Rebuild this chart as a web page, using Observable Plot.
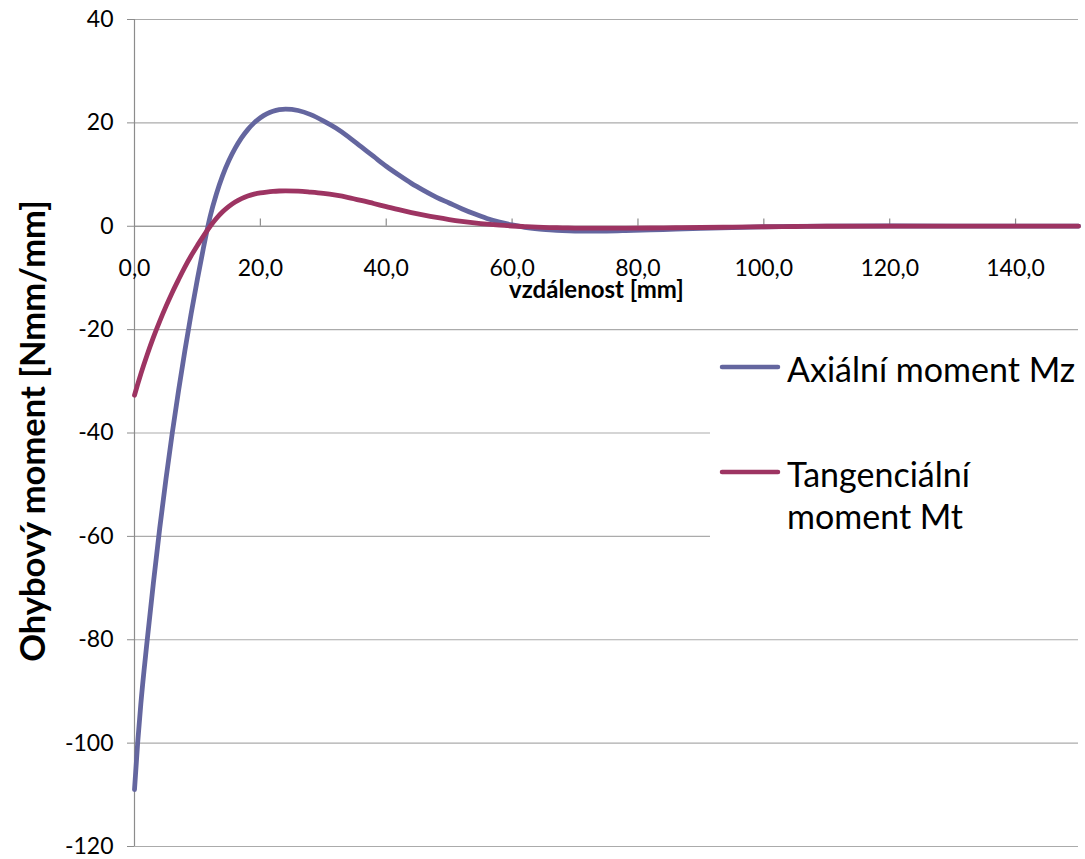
<!DOCTYPE html>
<html>
<head>
<meta charset="utf-8">
<script src="https://cdn.jsdelivr.net/npm/d3@7"></script>
<script src="https://cdn.jsdelivr.net/npm/@observablehq/plot@0.6"></script>
<style>
  html, body { margin: 0; padding: 0; background: #fff; }
  #wrap { position: relative; width: 1085px; height: 859px; }
  #legend { position: absolute; left: 710px; top: 340px; }
</style>
</head>
<body>
<div id="wrap"></div>
<script>
// distance along the shell [mm]
const xs = [0, 0.5, 1, 2, 3, 4, 5, 6, 7, 8, 9, 10, 11, 12, 13, 14, 15, 16, 17, 18, 19, 20, 21, 22, 23, 24,
  26, 28, 30, 32, 34, 36, 38, 40, 42, 44, 46, 48, 50, 52, 54, 56, 58, 60, 62, 64, 66, 68, 70,
  72, 75, 78, 82, 86, 90, 95, 100, 105, 110, 120, 130, 140, 150];
// Axiální moment Mz [Nmm/mm]
const mz = [-109, -100, -92.5, -80.3, -69, -58.5, -48.9, -40, -31.8, -24.1, -16.9, -10.2, -3.9, 1.8, 6.2, 9.8, 12.7, 15.1, 17.1, 18.7, 20.0, 21.0, 21.75, 22.25, 22.55, 22.67,
  22.4, 21.6, 20.4, 19.0, 17.3, 15.4, 13.5, 11.6, 9.9, 8.3, 6.9, 5.6, 4.5, 3.4, 2.4, 1.5, 0.8, 0.25, -0.2, -0.5, -0.7, -0.85, -0.93,
  -0.95, -0.93, -0.85, -0.7, -0.55, -0.4, -0.25, -0.12, -0.03, 0.02, 0.05, 0.04, 0.02, 0.01];
// Tangenciální moment Mt [Nmm/mm]
const mt = [-32.7, -30.6, -28.6, -24.9, -21.5, -18.4, -15.5, -12.8, -10.3, -7.9, -5.7, -3.7, -1.8, -0.05, 1.5, 2.8, 3.85, 4.7, 5.35, 5.85, 6.2, 6.45, 6.62, 6.75, 6.82, 6.85,
  6.8, 6.6, 6.35, 6.0, 5.55, 5.0, 4.4, 3.8, 3.2, 2.65, 2.15, 1.7, 1.3, 0.95, 0.65, 0.4, 0.2, 0.05, -0.07, -0.17, -0.25, -0.3, -0.35,
  -0.37, -0.38, -0.37, -0.34, -0.29, -0.24, -0.17, -0.1, -0.05, 0, 0.04, 0.04, 0.02, 0.01];

const xTicks = [0, 20, 40, 60, 80, 100, 120, 140];
const yTicks = [-120, -100, -80, -60, -40, -20, 0, 20, 40];
const seriesNames = ["Axiální moment Mz", "Tangenciální moment Mt"];
const seriesColors = ["#64669f", "#9d3462"];
const xTitle = "vzdálenost [mm]";
const yTitle = "Ohybový moment [Nmm/mm]";

const rows = xs.map((x, i) => ({x, mz: mz[i], mt: mt[i]}));
const fmtX = d => d.toFixed(1).replace(".", ",");

const chart = Plot.plot({
  width: 1085,
  height: 859,
  marginLeft: 134,
  marginRight: 7,
  marginTop: 19,
  marginBottom: 13,
  x: {domain: [0, 150], axis: null},
  y: {domain: [-120, 40], axis: null},
  style: {fontFamily: "Lato, 'Open Sans', sans-serif", background: "white", color: "black"},
  marks: [
    Plot.ruleY(yTicks, {y: d => d, x1: 0, x2: 150, stroke: "#ababab", strokeWidth: 1.2}),
    Plot.axisY({ticks: yTicks, tickSize: 7, tickPadding: 14, fontSize: 23, label: null,
      tickFormat: d => String(d), stroke: "#8c8c8c"}),
    Plot.ruleX([0], {stroke: "#8c8c8c", strokeWidth: 1.2}),
    Plot.ruleY([0], {stroke: "#8c8c8c", strokeWidth: 1.2}),
    Plot.ruleX(xTicks.filter(d => d > 0), {x: d => d, y1: 0, y2: 1.4, stroke: "#8c8c8c", strokeWidth: 1.2}),
    Plot.text(xTicks, {x: d => d, y: () => 0, dy: 42, text: fmtX, fontSize: 23, fill: "black"}),
    Plot.text([xTitle], {x: () => 73.4, y: () => 0, dy: 64, text: d => d, fontSize: 24, fontWeight: "bold", fill: "black"}),
    Plot.text([yTitle], {frameAnchor: "left", textAnchor: "middle", rotate: -90, dx: -101, dy: -2, text: d => d, fontSize: 34.5, fontWeight: "bold", fill: "black"}),
    Plot.line(rows, {x: "x", y: "mz", stroke: seriesColors[0], strokeWidth: 4.8, curve: "monotone-x"}),
    Plot.line(rows, {x: "x", y: "mt", stroke: seriesColors[1], strokeWidth: 4.8, curve: "monotone-x"})
  ]
});

const wrap = document.getElementById("wrap");
wrap.appendChild(chart);

// Legend (Excel-style, right side, white box over the gridlines)
const lg = d3.create("svg").attr("id", "legend").attr("width", 375).attr("height", 215)
  .style("font-family", "Lato, 'Open Sans', sans-serif");
lg.append("rect").attr("width", 375).attr("height", 215).attr("fill", "white");
const items = [
  {color: seriesColors[0], lines: ["Axiální moment Mz"], y: 27},
  {color: seriesColors[1], lines: ["Tangenciální", "moment Mt"], y: 132}
];
items.forEach(it => {
  lg.append("line").attr("x1", 12).attr("x2", 68).attr("y1", it.y).attr("y2", it.y)
    .attr("stroke", it.color).attr("stroke-width", 4.5).attr("stroke-linecap", "round");
  it.lines.forEach((t, j) => {
    lg.append("text").attr("x", 77).attr("y", it.y + 15 + j * 42)
      .attr("font-size", 34).attr("fill", "black").text(t);
  });
});
wrap.appendChild(lg.node());
</script>
</body>
</html>
